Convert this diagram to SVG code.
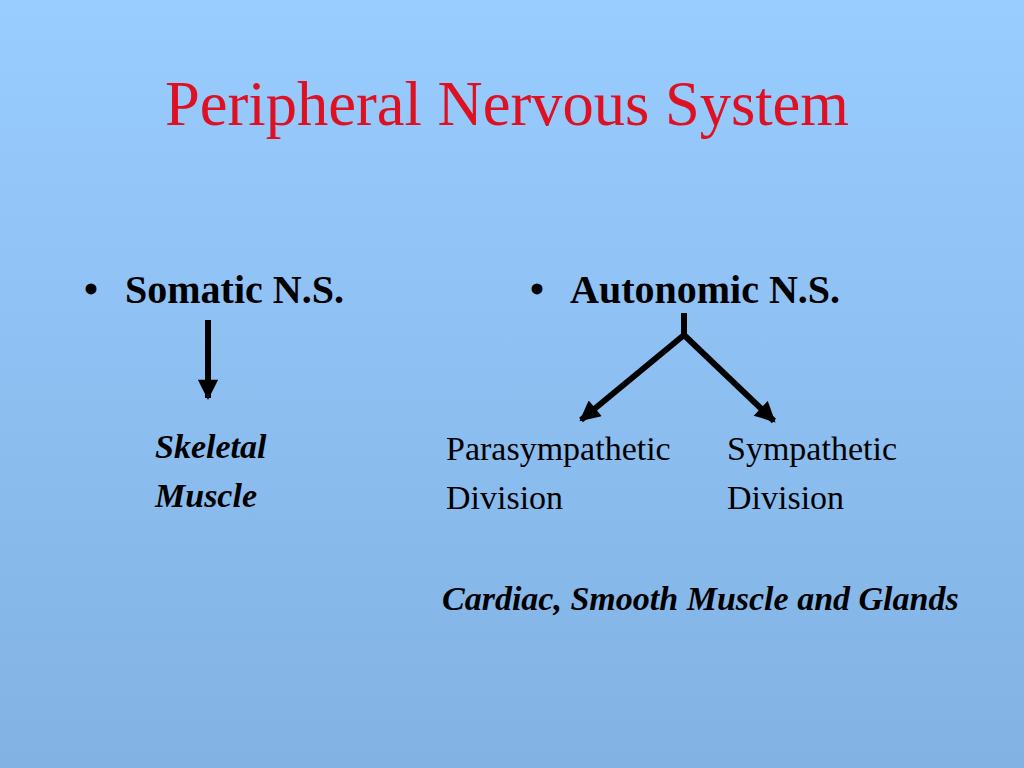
<svg xmlns="http://www.w3.org/2000/svg" width="1024" height="768" viewBox="0 0 1024 768">
<defs>
<linearGradient id="bg" x1="0" y1="0" x2="0" y2="1">
<stop offset="0" stop-color="#99CCFF"/>
<stop offset="1" stop-color="#82B2E4"/>
</linearGradient>
<marker id="ah" viewBox="0 0 10 10" refX="9" refY="5" markerWidth="3.6" markerHeight="3.4" orient="auto" markerUnits="strokeWidth">
<path d="M0,0 L10,5 L0,10 z" fill="#000"/>
</marker>
<style>
text{font-family:"Liberation Serif","Times New Roman",serif;fill:#000}
.title{font-size:62.5px;fill:#DD1122}
.head{font-size:40px;font-weight:bold}
.bi{font-size:34px;font-weight:bold;font-style:italic}
.reg{font-size:34px}
.conn{stroke:#000;stroke-width:6;fill:none}
</style>
</defs>
<rect width="1024" height="768" fill="url(#bg)"/>
<text class="title" x="507" y="125" text-anchor="middle">Peripheral Nervous System</text>
<g id="somatic"><text class="head" x="84" y="303">•</text><text class="head" x="125" y="303">Somatic N.S.</text></g>
<g id="autonomic"><text class="head" x="530" y="303">•</text><text class="head" x="570" y="303">Autonomic N.S.</text></g>
<g id="skeletal"><text class="bi" x="155" y="458">Skeletal</text><text class="bi" x="155" y="507">Muscle</text></g>
<g id="parasympathetic"><text class="reg" x="446" y="460">Parasympathetic</text><text class="reg" x="446" y="509">Division</text></g>
<g id="sympathetic"><text class="reg" x="727" y="460">Sympathetic</text><text class="reg" x="727" y="509">Division</text></g>
<g id="effectors"><text class="bi" x="442" y="610">Cardiac, Smooth Muscle and Glands</text></g>
<g id="connectors">
<path class="conn" d="M208,320 L208,398" marker-end="url(#ah)"/>
<path class="conn" d="M684,313 L684,335"/>
<path class="conn" d="M684,335 L581,420" marker-end="url(#ah)"/>
<path class="conn" d="M684,335 L774,421" marker-end="url(#ah)"/>
</g>
</svg>
